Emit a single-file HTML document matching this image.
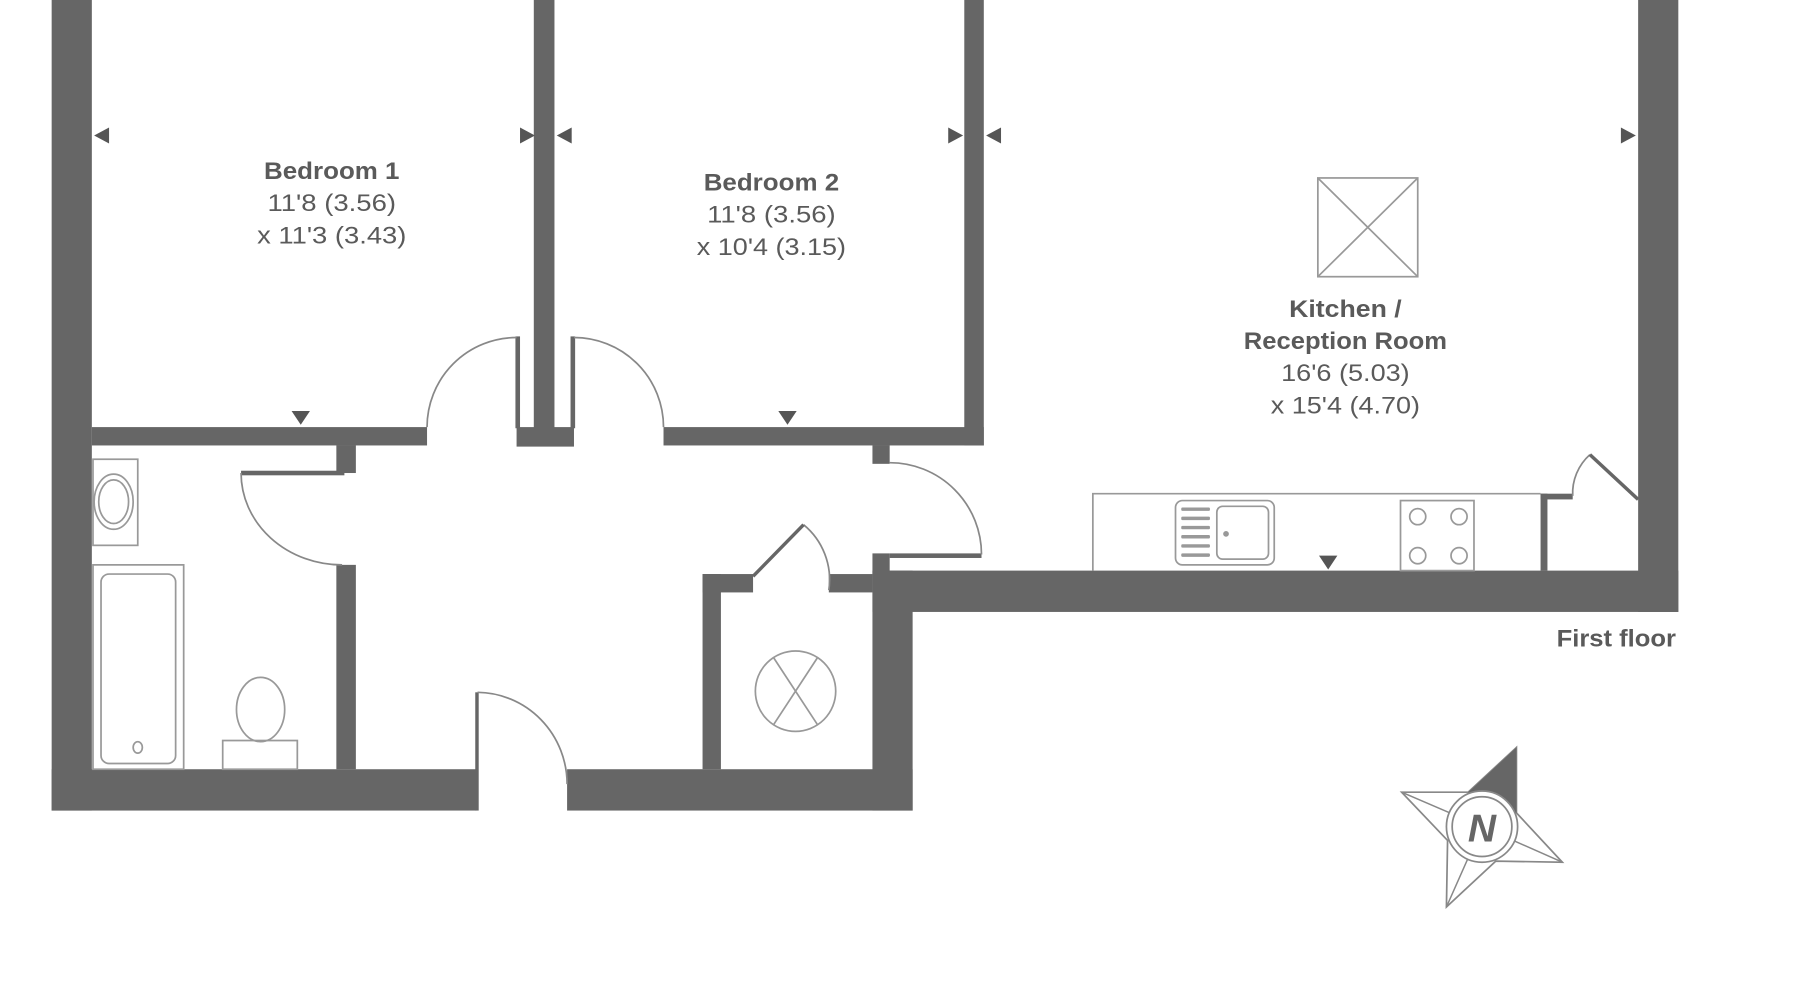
<!DOCTYPE html>
<html><head><meta charset="utf-8"><style>
html,body{margin:0;padding:0;background:#fff;}
svg{display:block;}
text{font-family:"Liberation Sans",sans-serif;fill:#5a5a5a;}
</style></head><body>
<svg width="1800" height="1000" viewBox="0 0 1568 871" preserveAspectRatio="none" xmlns="http://www.w3.org/2000/svg">
<rect width="1568" height="871" fill="#fff"/>
<g fill="#666">
<rect x="45" y="0" width="35" height="706"/>
<rect x="45" y="670" width="370" height="36"/>
<rect x="494" y="670" width="301" height="36"/>
<rect x="760" y="497" width="35" height="209"/>
<rect x="760" y="497" width="702" height="36"/>
<rect x="1427" y="0" width="35" height="533"/>
<rect x="465" y="0" width="18" height="388"/>
<rect x="450" y="372" width="50" height="17"/>
<rect x="449" y="293" width="4" height="80"/>
<rect x="497" y="293" width="4" height="80"/>
<rect x="840" y="0" width="17" height="388"/>
<rect x="80" y="372" width="292" height="16"/>
<rect x="578" y="372" width="279" height="16"/>
<rect x="293" y="388" width="17" height="24"/>
<rect x="210" y="410" width="90" height="4"/>
<rect x="293" y="492" width="17" height="178"/>
<rect x="414" y="603" width="3" height="103"/>
<rect x="760" y="388" width="15" height="16"/>
<rect x="775" y="482" width="80" height="4"/>
<rect x="760" y="482" width="15" height="18"/>
<rect x="612" y="500" width="16" height="170"/>
<rect x="612" y="500" width="44" height="16"/>
<rect x="722" y="500" width="38" height="16"/>
<rect x="1342" y="430" width="6" height="67"/>
<rect x="1342" y="430" width="28" height="5"/>
</g>
<g fill="none" stroke="#888" stroke-width="1.5">
<path d="M450,294 A78,78 0 0 0 372,372"/>
<path d="M500,294 A78,78 0 0 1 578,372"/>
<path d="M210,412 A88,80 0 0 0 298,492"/>
<path d="M416,603 A79,80 0 0 1 494,683"/>
<path d="M775,403 A80,80 0 0 1 855,483"/>
<path d="M700,457 A62,62 0 0 1 722,514"/>
<path d="M1370,432 A45,45 0 0 1 1385,396"/>
</g>
<g stroke="#666" stroke-width="3" fill="none">
<path d="M656,502 L700,457"/>
<path d="M1385,396 L1427,435"/>
</g>
<g fill="none" stroke="#999" stroke-width="1.5">
<path d="M952,497 L952,430 L1342,430"/>
<rect x="1024" y="436" width="86" height="56" rx="6"/>
<rect x="1060" y="441" width="45" height="46" rx="5"/>
<rect x="1220" y="436" width="64" height="61"/>
<circle cx="1235" cy="450" r="7"/><circle cx="1271" cy="450" r="7"/>
<circle cx="1235" cy="484" r="7"/><circle cx="1271" cy="484" r="7"/>
<rect x="1148" y="155" width="87" height="86"/>
<path d="M1148,155 L1235,241 M1235,155 L1148,241"/>
<circle cx="693" cy="602" r="35"/>
<path d="M674,573 L712,631 M712,573 L674,631"/>
<rect x="81" y="400" width="39" height="75"/>
<ellipse cx="99" cy="437" rx="17" ry="24"/>
<ellipse cx="99" cy="437" rx="13" ry="19"/>
<rect x="81" y="492" width="79" height="178"/>
<rect x="88" y="500" width="65" height="165" rx="7"/>
<ellipse cx="120" cy="651" rx="4" ry="5"/>
<ellipse cx="227" cy="618" rx="21" ry="28"/>
<rect x="194" y="645" width="65" height="25"/>
</g>
<g fill="#999">
<rect x="1029" y="442" width="25" height="3" rx="1"/><rect x="1029" y="450" width="25" height="3" rx="1"/>
<rect x="1029" y="458" width="25" height="3" rx="1"/><rect x="1029" y="466" width="25" height="3" rx="1"/>
<rect x="1029" y="474" width="25" height="3" rx="1"/><rect x="1029" y="482" width="25" height="3" rx="1"/>
<circle cx="1068" cy="465" r="2.5"/>
</g>
<g fill="#555">
<path d="M82,118 L95,111 L95,125 Z"/>
<path d="M466,118 L453,111 L453,125 Z"/>
<path d="M485,118 L498,111 L498,125 Z"/>
<path d="M839,118 L826,111 L826,125 Z"/>
<path d="M859,118 L872,111 L872,125 Z"/>
<path d="M1425,118 L1412,111 L1412,125 Z"/>
<path d="M262,370 L254,358 L270,358 Z"/>
<path d="M686,370 L678,358 L694,358 Z"/>
<path d="M1157,496 L1149,484 L1165,484 Z"/>
</g>
<g font-size="21" text-anchor="middle">
<text x="289" y="156" font-weight="bold" textLength="118" lengthAdjust="spacingAndGlyphs">Bedroom 1</text>
<text x="289" y="184" textLength="112" lengthAdjust="spacingAndGlyphs">11'8 (3.56)</text>
<text x="289" y="212" textLength="130" lengthAdjust="spacingAndGlyphs">x 11'3 (3.43)</text>
<text x="672" y="166" font-weight="bold" textLength="118" lengthAdjust="spacingAndGlyphs">Bedroom 2</text>
<text x="672" y="194" textLength="112" lengthAdjust="spacingAndGlyphs">11'8 (3.56)</text>
<text x="672" y="222" textLength="130" lengthAdjust="spacingAndGlyphs">x 10'4 (3.15)</text>
<text x="1172" y="276" font-weight="bold" textLength="98" lengthAdjust="spacingAndGlyphs">Kitchen /</text>
<text x="1172" y="304" font-weight="bold" textLength="177" lengthAdjust="spacingAndGlyphs">Reception Room</text>
<text x="1172" y="332" textLength="112" lengthAdjust="spacingAndGlyphs">16'6 (5.03)</text>
<text x="1172" y="360" textLength="130" lengthAdjust="spacingAndGlyphs">x 15'4 (4.70)</text>
</g>
<text x="1460" y="563" font-size="21" font-weight="bold" text-anchor="end" textLength="104" lengthAdjust="spacingAndGlyphs">First floor</text>
<!-- compass -->
<path d="M1321,651 L1321,708 L1361,751 L1303,750 L1260,790 L1261,732 L1221,690 L1279,690 Z" fill="#fff" stroke="#888" stroke-width="1.5"/>
<path d="M1321,651 L1321,708 L1291,720 L1279,690 Z" fill="#666"/>
<g stroke="#888" stroke-width="1.3">
<path d="M1361,751 L1291,720 M1260,790 L1291,720 M1221,690 L1291,720"/>
</g>
<circle cx="1291" cy="720" r="31" fill="#fff" stroke="#888" stroke-width="1.5"/>
<circle cx="1291" cy="720" r="26" fill="none" stroke="#888" stroke-width="1.5"/>
<text x="1291" y="733" font-size="34" font-weight="bold" font-style="italic" text-anchor="middle" style="fill:#666">N</text>
</svg>
</body></html>
